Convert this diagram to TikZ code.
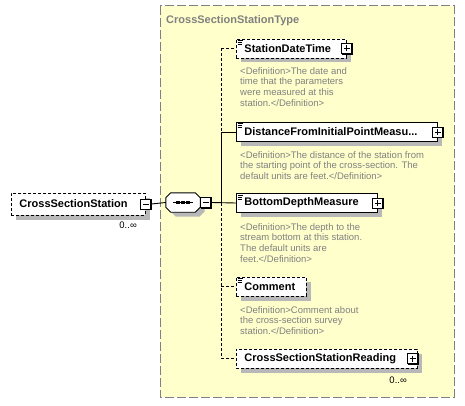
\documentclass[tikz,border=0pt]{standalone}
\usepackage{fontspec}
\setmainfont{Liberation Sans}
\definecolor{boxyellow}{RGB}{255,255,204}
\definecolor{framegray}{RGB}{128,128,128}
\definecolor{deftext}{RGB}{128,128,128}
\tikzset{
  elem/.style={draw=black, fill=white, line width=0.9pt, minimum height=19pt,
    inner xsep=8pt, inner ysep=0pt, anchor=west, align=left,
    font=\bfseries\fontsize{11}{13}\selectfont},
  opt/.style={dash pattern=on 3pt off 2pt},
  pmbox/.style={draw=black, fill=white, minimum size=10pt, inner sep=0pt, line width=0.9pt},
  plusbox/.style={pmbox, path picture={
    \draw[line width=0.9pt] ([xshift=2pt]path picture bounding box.west) -- ([xshift=-2pt]path picture bounding box.east);
    \draw[line width=0.9pt] ([yshift=2pt]path picture bounding box.south) -- ([yshift=-2pt]path picture bounding box.north);}},
  minusbox/.style={pmbox, path picture={
    \draw[line width=0.9pt] ([xshift=2pt]path picture bounding box.west) -- ([xshift=-2pt]path picture bounding box.east);}},
  deftxt/.style={anchor=north west, inner sep=0pt, align=left, text=deftext,
    font=\fontsize{9.5}{10.8}\selectfont},
  mult/.style={anchor=north east, inner sep=0pt, font=\fontsize{9.5}{11}\selectfont},
  conn/.style={line width=0.9pt},
  shadowfill/.style={fill=black!28, draw=none},
}
\newcommand\annicon[1]{%
  \draw[line width=0.7pt] ([shift={(1.5,1.8)}]#1.north west) -- ++(5.5,0)
    ([shift={(1.5,3.8)}]#1.north west) -- ++(4.5,0)
    ([shift={(1.5,5.8)}]#1.north west) -- ++(4.5,0);}
\newcommand\pmshade[1]{%
  \draw[line width=1.4pt, line cap=rect] ([yshift=-1pt]#1.north east) -- (#1.south east) -- ([xshift=1pt]#1.south west);}
\newcommand\octpath[1]{([xshift=5pt]#1.north west) -- ([xshift=-5pt]#1.north east) -- ([yshift=-5pt]#1.north east) -- ([yshift=5pt]#1.south east) -- ([xshift=-5pt]#1.south east) -- ([xshift=5pt]#1.south west) -- ([yshift=5pt]#1.south west) -- ([yshift=-5pt]#1.north west) -- cycle}
\begin{document}
\begin{tikzpicture}[x=1pt,y=-1pt]
\useasboundingbox (0,0) rectangle (465,406);
% type frame
\draw[draw=framegray, fill=boxyellow, line width=1pt, dash pattern=on 9pt off 3pt] (160,6) rectangle (454,397);
\node[anchor=north west, inner sep=0pt, text=framegray, font=\bfseries\fontsize{11}{13}\selectfont] (title) at (166,15) {CrossSectionStationType};

% shadows (drawn first, explicit geometry)
\fill[shadowfill] (15.5,197.5) rectangle (149.5,219.5);   % CrossSectionStation
\fill[shadowfill] (240.5,43.5) rectangle (350.5,62.5);    % StationDateTime
\fill[shadowfill] (240.5,127) rectangle (441.5,146);      % Distance...
\fill[shadowfill] (240.5,198) rectangle (381.5,217);      % BottomDepthMeasure
\fill[shadowfill] (240.5,281.5) rectangle (310.5,300.5);  % Comment
\fill[shadowfill] (240.5,353.5) rectangle (421.5,372.5);  % CrossSectionStationReading
\fill[shadowfill] (175.5,197.5) -- (199.5,197.5) -- (204.5,202.5) -- (204.5,211.5) -- (199.5,216.5) -- (175.5,216.5) -- (170.5,211.5) -- (170.5,202.5) -- cycle; % compositor

% root element
\node[elem, opt, minimum height=22pt, text width=118pt] (css) at (11,204) {CrossSectionStation};
\node[minusbox] (cssm) at (css.east) {};
\pmshade{cssm}
\node[mult] (cssmult) at (137,222) {0..∞};

% sequence compositor
\node[minimum width=34pt, minimum height=19pt, inner sep=0pt] (seq) at (183,202.5) {};
\draw[fill=white, line width=0.9pt] \octpath{seq};
\draw[line width=0.9pt] ([xshift=-10pt]seq.center) -- ([xshift=10pt]seq.center);
\foreach \dx in {-5,0,5} {\fill ([shift={(\dx-1.6,-1.6)}]seq.center) rectangle ++(3.2,3.2);}
\node[minusbox, anchor=west] (seqm) at (seq.east) {};
\pmshade{seqm}

% child elements
\node[elem, opt, text width=94pt] (sdt) at (236,48.5) {StationDateTime};
\node[plusbox] (sdtp) at (sdt.east) {};
\pmshade{sdtp}
\annicon{sdt}
\node[deftxt] (sdtd) at (240,67) {<Definition>The date and\\time that the parameters\\were measured at this\\station.</Definition>};

\node[elem, text width=185pt] (dist) at (236,132) {DistanceFromInitialPointMeasu...};
\node[plusbox] (distp) at (dist.east) {};
\pmshade{distp}
\annicon{dist}
\node[deftxt] (distd) at (240,151) {<Definition>The distance of the station from\\the starting point of the cross-section. The\\default units are feet.</Definition>};

\node[elem, text width=125pt] (bdm) at (236,203) {BottomDepthMeasure};
\node[plusbox] (bdmp) at (bdm.east) {};
\pmshade{bdmp}
\annicon{bdm}
\node[deftxt] (bdmd) at (240,223) {<Definition>The depth to the\\stream bottom at this station.\\The default units are\\feet.</Definition>};

\node[elem, opt, text width=54pt] (cmt) at (236,286.5) {Comment};
\annicon{cmt}
\node[deftxt] (cmtd) at (240,306) {<Definition>Comment about\\the cross-section survey\\station.</Definition>};

\node[elem, opt, text width=165pt] (cssr) at (236,358.5) {CrossSectionStationReading};
\node[plusbox] (cssrp) at ([xshift=-5pt]cssr.east) {};
\pmshade{cssrp}
\node[mult] (cssrmult) at (407,377) {0..∞};

% connectors
\coordinate (trunk) at (221,0);
\draw[conn] (cssm.east) -- (seq.west);
\draw[conn] (seqm.east) -- (bdm.west);
\draw[conn, opt] (trunk|-sdt.west) -- (sdt.west);
\draw[conn] (trunk|-dist.west) -- (dist.west);
\draw[conn, opt] (trunk|-cmt.west) -- (cmt.west);
\draw[conn, opt] (trunk|-cssr.west) -- (cssr.west);
\draw[conn, opt] (trunk|-sdt.west) -- (trunk|-dist.west);
\draw[conn] (trunk|-dist.west) -- (trunk|-bdm.west);
\draw[conn, opt] (trunk|-bdm.west) -- (trunk|-cssr.west);
\end{tikzpicture}
\end{document}
